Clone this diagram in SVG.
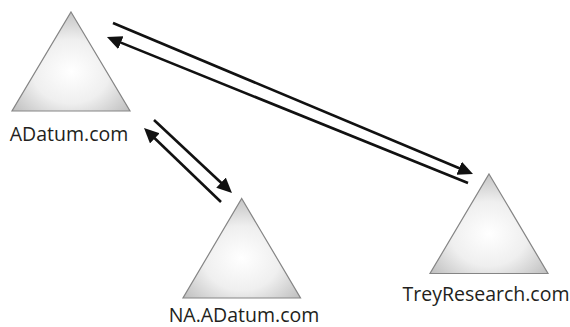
<svg xmlns="http://www.w3.org/2000/svg" width="570" height="327" viewBox="0 0 570 327">
  <style>
    .tri { fill: url(#triFill); stroke: #858585; stroke-width: 1.2; stroke-linejoin: miter; }
    .label { font-family: "Open Sans", "Liberation Sans", sans-serif; font-size: 19.5px; fill: #231f20; text-anchor: middle; }
    .link { stroke: #111; stroke-width: 2.6; fill: none; marker-end: url(#head); }
  </style>
  <defs>
    <radialGradient id="triFill" cx="0.5" cy="0.6" r="0.65">
      <stop offset="0" stop-color="#ffffff"/>
      <stop offset="0.5" stop-color="#efefef"/>
      <stop offset="1" stop-color="#bcbcbc"/>
    </radialGradient>
    <marker id="head" markerUnits="userSpaceOnUse" markerWidth="17" markerHeight="15" refX="6" refY="7" orient="auto">
      <path d="M0,0 L15,7 L0,14 z" fill="#111"/>
    </marker>
  </defs>

  <!-- trust links -->
  <g id="connectors">
    <line class="link" x1="113" y1="23" x2="464.7" y2="170.5"/>
    <line class="link" x1="468" y1="183" x2="115.3" y2="40.4"/>
    <line class="link" x1="154" y1="120" x2="225.4" y2="186.8"/>
    <line class="link" x1="221" y1="202" x2="150.5" y2="134.2"/>
  </g>

  <!-- forest root domain -->
  <g id="adatum">
    <polygon class="tri" points="71,12 130,111 12,111"/>
    <text class="label" x="69" y="141">ADatum.com</text>
  </g>

  <!-- child domain -->
  <g id="na-adatum">
    <polygon class="tri" points="241.7,198.5 300.5,298 183,298"/>
    <text class="label" x="244" y="322">NA.ADatum.com</text>
  </g>

  <!-- external forest -->
  <g id="treyresearch">
    <polygon class="tri" points="489,174 548,273.5 430,273.5"/>
    <text class="label" x="486" y="301">TreyResearch.com</text>
  </g>
</svg>
